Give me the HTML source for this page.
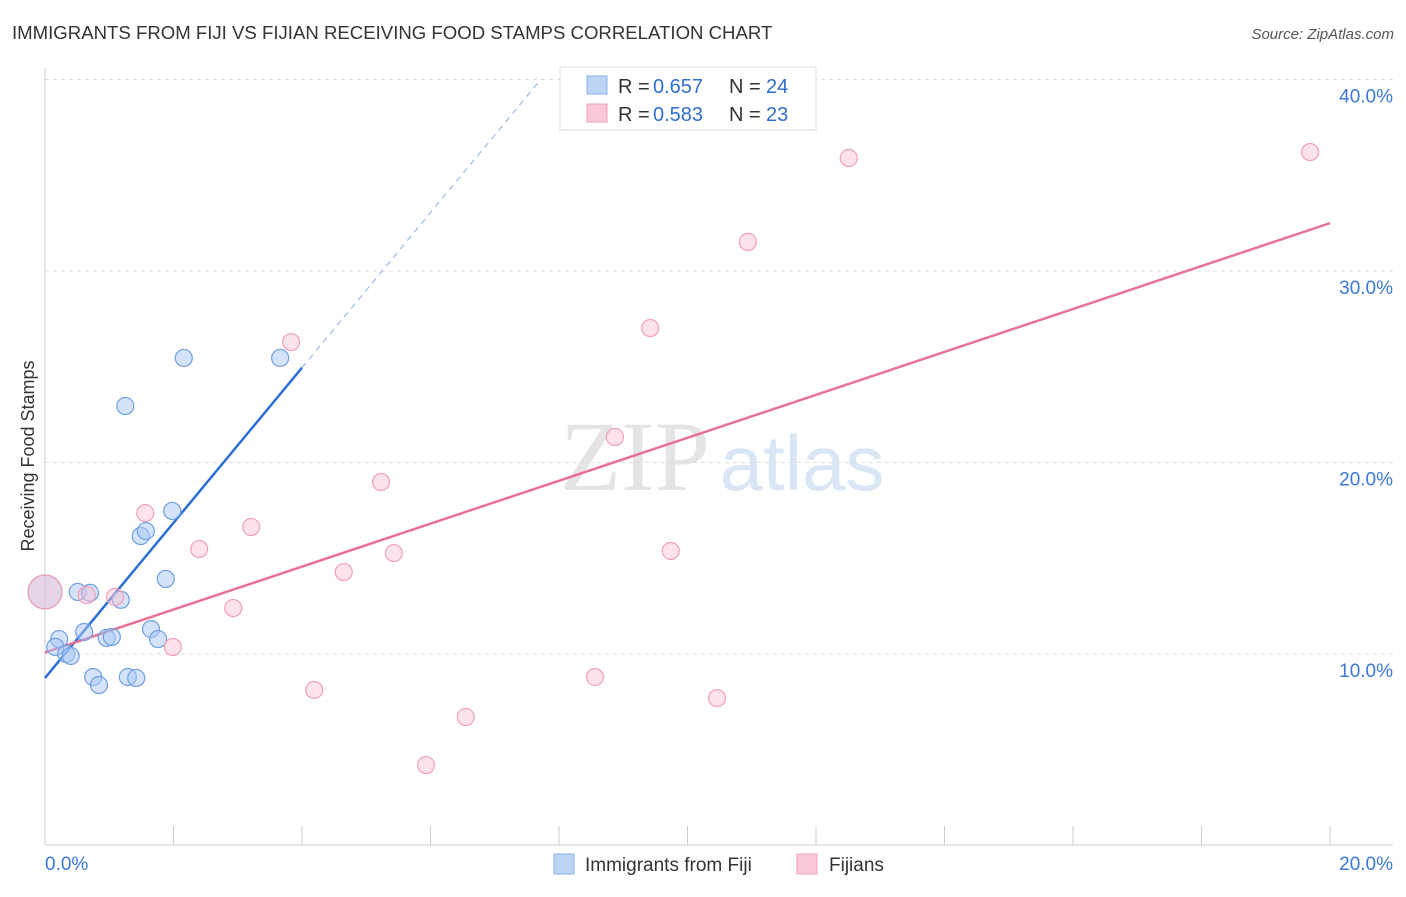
<!DOCTYPE html>
<html><head><meta charset="utf-8"><style>
body{margin:0;background:#fff;font-family:"Liberation Sans",sans-serif;}
svg text{font-family:"Liberation Sans",sans-serif;}
</style></head><body>
<svg width="1406" height="892" viewBox="0 0 1406 892" xmlns="http://www.w3.org/2000/svg">
<text x="12" y="39" font-size="18.6" fill="#333">IMMIGRANTS FROM FIJI VS FIJIAN RECEIVING FOOD STAMPS CORRELATION CHART</text>
<text x="1394" y="39" font-size="15" fill="#555" font-style="italic" text-anchor="end">Source: ZipAtlas.com</text>
<g>
<text x="635" y="490" font-size="100" fill="#e4e4e4" text-anchor="middle" style="font-family:'Liberation Serif',serif">ZIP</text>
<text x="802" y="490" font-size="78" fill="#d8e6f6" text-anchor="middle">atlas</text>
</g>
<g id="grid"></g>
<g id="axes"></g>
<text transform="translate(34,456) rotate(-90)" font-size="18" fill="#333" text-anchor="middle">Receiving Food Stamps</text>
<g id="lines"></g>
<g id="points"></g>
<g>
<rect x="560" y="67" width="256" height="63" fill="#fff" stroke="#ddd"/>
<rect x="587" y="76" width="20" height="18" fill="#bcd5f5" stroke="#8ab4e8"/>
<rect x="587" y="104" width="20" height="18" fill="#fac8d6" stroke="#f0a0b8"/>
<g font-size="20">
<text x="618" y="93" fill="#333">R =</text><text x="653" y="93" fill="#2f6fd0">0.657</text>
<text x="729" y="93" fill="#333">N =</text><text x="766" y="93" fill="#2f6fd0">24</text>
</g>
<g font-size="20">
<text x="618" y="121" fill="#333">R =</text><text x="653" y="121" fill="#2f6fd0">0.583</text>
<text x="729" y="121" fill="#333">N =</text><text x="766" y="121" fill="#2f6fd0">23</text>
</g>
</g>
<g>
<rect x="554" y="854" width="20" height="20" fill="#bcd5f5" stroke="#8ab4e8"/>
<text x="585" y="871" font-size="19" fill="#333">Immigrants from Fiji</text>
<rect x="797" y="854" width="20" height="20" fill="#fac8d6" stroke="#f0a0b8"/>
<text x="829" y="871" font-size="19" fill="#333">Fijians</text>
</g>
</svg>
<script>
const xTicks=[0,2,4,6,8,10,12,14,16,18,20];
const yTickVals=[10,20,30,40];
const yTickLabels=["10.0%","20.0%","30.0%","40.0%"];
const fijiX=[0,0.22,0.16,0.33,0.40,0.51,0.70,0.61,0.75,0.84,0.96,1.04,1.18,1.25,1.29,1.42,1.49,1.57,1.65,1.76,1.88,1.98,2.16,3.66];
const fijiY=[13.24,10.78,10.37,10.0,9.9,13.24,13.19,11.15,8.8,8.38,10.84,10.89,12.83,22.95,8.8,8.75,16.16,16.42,11.3,10.78,13.92,17.47,25.46,25.46];
const fijianX=[0,0.65,1.09,1.56,1.99,2.40,2.93,3.21,3.83,4.19,4.65,5.23,5.43,5.93,6.55,8.56,8.87,9.42,9.74,10.46,10.94,12.51,19.69];
const fijianY=[13.24,13.08,12.98,17.36,10.36,15.48,12.40,16.63,26.29,8.12,14.28,18.98,15.27,4.2,6.71,8.8,21.33,27.02,15.38,7.7,31.52,35.9,36.21];
const fijiTrend=[8.75,4.05];
const fijianTrend=[10.08,1.121];
const NS="http://www.w3.org/2000/svg";
const X=v=>45+v*64.25, Y=v=>845.5-v*19.15;
function mk(t,a,p){const e=document.createElementNS(NS,t);for(const k in a)e.setAttribute(k,a[k]);p.appendChild(e);return e;}
const grid=document.getElementById('grid'),axes=document.getElementById('axes'),lines=document.getElementById('lines'),pts=document.getElementById('points');
yTickVals.forEach((v,i)=>{
 const l=mk('line',{x1:45,x2:1393,y1:Y(v),y2:Y(v),stroke:'#ddd','stroke-dasharray':'4,4'},grid);
 
 
 const t=mk('text',{x:1393,y:Y(v)+23,'font-size':19,fill:'#3b78d8','text-anchor':'end'},axes);
 t.textContent=yTickLabels[i];
 
 
});
const al=mk('line',{x1:45,x2:1393,y1:845,y2:845,stroke:'#ccc'},axes);


const yl=mk('line',{x1:45,x2:45,y1:68,y2:845,stroke:'#ccc'},axes);


xTicks.forEach(v=>{
 const t=mk('line',{x1:X(v),x2:X(v),y1:826,y2:845,stroke:'#ccc'},axes);
 
 
});
[[0,'0.0%','start',45],[20,'20.0%','end',1393]].forEach(d=>{
 const t=mk('text',{x:d[3],y:870,'font-size':19,fill:'#3b78d8','text-anchor':d[2]},axes);
 t.textContent=d[1];
 
 
});
const bl=mk('line',{x1:X(0),y1:Y(fijiTrend[0]),x2:X(4),y2:Y(fijiTrend[0]+4*fijiTrend[1]),stroke:'#2a6fd6','stroke-width':2.5},lines);


const xe=(40-fijiTrend[0])/fijiTrend[1];
const bd=mk('line',{x1:X(4),y1:Y(fijiTrend[0]+4*fijiTrend[1]),x2:X(xe),y2:Y(40),stroke:'#9bbbe8','stroke-width':1.2,'stroke-dasharray':'6,5'},lines);


const pl=mk('line',{x1:X(0),y1:Y(fijianTrend[0]),x2:X(20),y2:Y(fijianTrend[0]+20*fijianTrend[1]),stroke:'#e8709a','stroke-width':2.5},lines);


fijiX.forEach((x,i)=>{
 const c=mk('circle',{cx:X(x),cy:Y(fijiY[i]),r:i==0?17:8.5,fill:'rgba(170,200,245,0.5)',stroke:'#6f9fe0','stroke-width':1.2},pts);
 
 
});
fijianX.forEach((x,i)=>{
 const c=mk('circle',{cx:X(x),cy:Y(fijianY[i]),r:i==0?17:8.5,fill:'rgba(250,190,210,0.45)',stroke:'#f0a0b8','stroke-width':1.2},pts);
 
 
});
</script>
</body></html>
